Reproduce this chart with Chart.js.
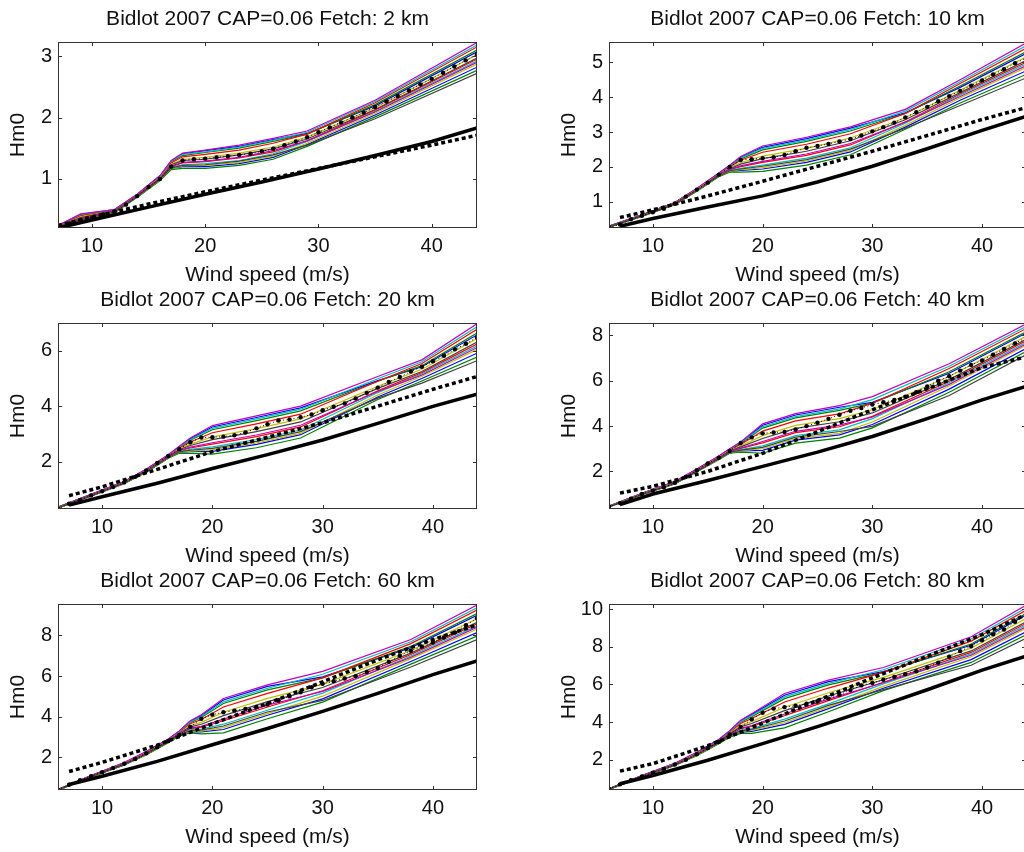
<!DOCTYPE html>
<html>
<head>
<meta charset="utf-8">
<title>Bidlot 2007 CAP=0.06</title>
<script src="https://cdn.jsdelivr.net/npm/chart.js@4.4.1/dist/chart.umd.min.js"></script>
<style>
html, body { margin:0; padding:0; background:#fff; }
body { width:1024px; height:852px; overflow:hidden; position:relative; }
canvas { position:absolute; }
</style>
</head>
<body>
<canvas id="p0" width="535" height="290" style="left:0px;top:0px"></canvas>
<canvas id="p1" width="533" height="290" style="left:551px;top:0px"></canvas>
<canvas id="p2" width="535" height="290" style="left:0px;top:281px"></canvas>
<canvas id="p3" width="533" height="290" style="left:551px;top:281px"></canvas>
<canvas id="p4" width="535" height="290" style="left:0px;top:562px"></canvas>
<canvas id="p5" width="533" height="290" style="left:551px;top:562px"></canvas>
<script>
// -----------------------------------------------
// Hm0 against wind speed, six fetches
// -----------------------------------------------

const xTicks = [10, 20, 30, 40];
const wind7to44 = [7,8,9,10,11,12,13,14,15,16,17,18,19,20,21,22,23,24,25,26,27,28,29,30,31,32,33,34,35,36,37,38,39,40,41,42,43,44];
const wind6to44 = [6,7,8,9,10,11,12,13,14,15,16,17,18,19,20,21,22,23,24,25,26,27,28,29,30,31,32,33,34,35,36,37,38,39,40,41,42,43,44];
const thickX = [7, 10, 15, 20, 25, 30, 35, 40, 44];
const runColors = ['#0000ff', '#008000', '#ff0000', '#00bfbf', '#bf00bf', '#bfbf00', '#404040'];

// Fetch 2 km
const yTicks2km = [1, 2, 3];
const knots2km = [7, 9, 12, 14, 16, 17, 18, 20, 23, 26, 29, 35, 44];
const runs2km = [
	[0.24,0.42,0.50,0.75,1.05,1.29,1.41,1.46,1.53,1.64,1.74,2.19,3.07],
	[0.23,0.41,0.49,0.74,1.04,1.28,1.38,1.43,1.50,1.61,1.73,2.21,3.10],
	[0.23,0.40,0.49,0.74,1.03,1.26,1.36,1.40,1.47,1.58,1.73,2.24,3.15],
	[0.24,0.42,0.50,0.75,1.04,1.29,1.40,1.44,1.52,1.63,1.76,2.26,3.18],
	[0.24,0.43,0.50,0.75,1.05,1.30,1.42,1.47,1.55,1.66,1.78,2.28,3.22],
	[0.22,0.38,0.48,0.73,1.02,1.24,1.32,1.35,1.42,1.52,1.68,2.16,3.02],
	[0.22,0.37,0.48,0.73,1.01,1.23,1.30,1.32,1.39,1.49,1.65,2.13,2.97],
	[0.20,0.31,0.46,0.71,0.98,1.17,1.20,1.20,1.25,1.35,1.56,2.04,2.82],
	[0.20,0.30,0.45,0.70,0.97,1.15,1.17,1.17,1.22,1.32,1.53,2.01,2.77],
	[0.21,0.35,0.47,0.72,1.00,1.20,1.26,1.28,1.34,1.44,1.62,2.12,2.95],
	[0.21,0.33,0.46,0.71,0.99,1.19,1.23,1.25,1.30,1.41,1.61,2.10,2.92],
	[0.22,0.35,0.47,0.72,1.00,1.21,1.27,1.29,1.35,1.46,1.62,2.09,2.90],
	[0.21,0.32,0.46,0.71,0.98,1.17,1.21,1.22,1.27,1.37,1.58,2.07,2.87],
	[0.21,0.33,0.46,0.71,0.99,1.18,1.22,1.23,1.29,1.39,1.55,1.98,2.72]
];
const mean2km = [0.20,0.27,0.33,0.36,0.42,0.47,0.58,0.72,0.87,1.00,1.20,1.30,1.32,1.33,1.35,1.37,1.39,1.41,1.45,1.49,1.55,1.61,1.68,1.76,1.84,1.92,2.00,2.08,2.17,2.26,2.35,2.44,2.54,2.63,2.73,2.83,2.93,3.03];
const solid2km = [0.20,0.33,0.54,0.75,0.95,1.16,1.38,1.61,1.83];
const dashed2km = [0.24,0.38,0.59,0.79,0.98,1.17,1.36,1.55,1.71];

// Fetch 10 km
const yTicks10km = [1, 2, 3, 4, 5];
const knots10km = [6, 9, 12, 14, 16, 17, 18, 20, 24, 28, 33, 38, 44];
const runs10km = [
	[0.30,0.63,0.98,1.38,1.82,2.04,2.28,2.56,2.81,3.11,3.55,4.28,5.25],
	[0.30,0.62,0.97,1.37,1.81,2.02,2.23,2.49,2.73,3.03,3.53,4.32,5.30],
	[0.29,0.62,0.97,1.36,1.80,2.00,2.19,2.42,2.65,2.95,3.53,4.39,5.40],
	[0.30,0.63,0.97,1.37,1.81,2.03,2.26,2.53,2.77,3.07,3.60,4.44,5.47],
	[0.30,0.63,0.98,1.38,1.82,2.05,2.30,2.60,2.85,3.15,3.65,4.50,5.55],
	[0.29,0.61,0.96,1.35,1.78,1.97,2.12,2.31,2.53,2.83,3.41,4.20,5.15],
	[0.29,0.61,0.95,1.34,1.77,1.95,2.08,2.24,2.45,2.75,3.35,4.13,5.05],
	[0.27,0.59,0.93,1.31,1.73,1.87,1.90,1.94,2.13,2.43,3.14,3.91,4.75],
	[0.27,0.58,0.92,1.30,1.72,1.85,1.85,1.87,2.05,2.35,3.08,3.83,4.65],
	[0.28,0.60,0.94,1.33,1.76,1.92,2.01,2.13,2.33,2.63,3.29,4.09,5.00],
	[0.28,0.59,0.94,1.32,1.75,1.90,1.96,2.05,2.25,2.55,3.25,4.06,4.95],
	[0.28,0.60,0.94,1.33,1.76,1.93,2.03,2.16,2.37,2.67,3.28,4.02,4.90],
	[0.27,0.59,0.93,1.31,1.74,1.88,1.92,1.98,2.17,2.47,3.19,3.98,4.85],
	[0.28,0.59,0.93,1.32,1.74,1.89,1.94,2.02,2.21,2.51,3.11,3.76,4.55]
];
const mean10km = [0.27,0.35,0.50,0.60,0.70,0.80,0.95,1.15,1.35,1.55,1.78,2.00,2.20,2.22,2.25,2.28,2.34,2.45,2.55,2.60,2.66,2.73,2.80,2.90,3.02,3.14,3.27,3.42,3.57,3.72,3.88,4.03,4.18,4.33,4.48,4.65,4.80,4.97,5.12];
const solid10km = [0.30,0.52,0.85,1.17,1.57,2.02,2.52,3.05,3.45];
const dashed10km = [0.55,0.77,1.17,1.59,2.02,2.45,2.90,3.36,3.70];

// Fetch 20 km
const yTicks20km = [2, 4, 6];
const knots20km = [6, 9, 12, 14, 16, 17, 18, 20, 24, 28, 35, 39, 44];
const runs20km = [
	[0.36,0.82,1.28,1.72,2.24,2.54,2.82,3.25,3.59,3.94,4.92,5.42,6.57],
	[0.36,0.81,1.27,1.71,2.23,2.51,2.77,3.15,3.48,3.83,4.90,5.46,6.64],
	[0.35,0.80,1.26,1.70,2.22,2.49,2.71,3.04,3.36,3.71,4.90,5.54,6.77],
	[0.36,0.81,1.27,1.71,2.24,2.53,2.80,3.20,3.54,3.89,4.99,5.60,6.86],
	[0.36,0.82,1.28,1.72,2.25,2.55,2.85,3.30,3.65,4.00,5.07,5.67,6.97],
	[0.35,0.79,1.25,1.68,2.20,2.45,2.63,2.89,3.19,3.54,4.72,5.33,6.44],
	[0.35,0.79,1.24,1.67,2.19,2.43,2.58,2.79,3.08,3.43,4.64,5.25,6.31],
	[0.33,0.76,1.21,1.63,2.13,2.33,2.36,2.37,2.62,2.97,4.33,5.00,5.91],
	[0.33,0.75,1.20,1.62,2.12,2.30,2.30,2.27,2.50,2.85,4.24,4.91,5.77],
	[0.34,0.77,1.23,1.66,2.17,2.39,2.49,2.63,2.90,3.25,4.55,5.21,6.24],
	[0.34,0.77,1.22,1.65,2.15,2.36,2.44,2.53,2.79,3.14,4.49,5.17,6.17],
	[0.34,0.78,1.23,1.66,2.17,2.40,2.52,2.68,2.96,3.31,4.53,5.12,6.11],
	[0.33,0.76,1.21,1.64,2.14,2.34,2.38,2.42,2.67,3.02,4.40,5.08,6.04],
	[0.34,0.76,1.22,1.64,2.15,2.35,2.41,2.48,2.73,3.08,4.29,4.83,5.64]
];
const mean20km = [0.30,0.48,0.62,0.78,0.93,1.08,1.25,1.45,1.68,1.95,2.20,2.45,2.70,2.87,2.88,2.90,2.95,3.05,3.20,3.35,3.48,3.52,3.60,3.70,3.85,3.98,4.10,4.28,4.48,4.67,4.87,5.05,5.25,5.42,5.62,5.82,6.05,6.25,6.48];
const solid20km = [0.43,0.73,1.22,1.75,2.25,2.78,3.38,3.99,4.43];
const dashed20km = [0.77,1.09,1.72,2.36,2.88,3.40,4.00,4.61,5.07];

// Fetch 40 km
const yTicks40km = [2, 4, 6, 8];
const knots40km = [6, 9, 12, 14, 16, 17, 18, 20, 23, 27, 30, 37, 44];
const runs40km = [
	[0.47,1.03,1.55,2.09,2.67,2.99,3.28,4.04,4.49,4.83,5.05,6.33,8.10],
	[0.46,1.02,1.54,2.08,2.66,2.97,3.23,3.91,4.36,4.69,5.01,6.40,8.16],
	[0.46,1.02,1.53,2.07,2.64,2.95,3.19,3.78,4.23,4.54,5.01,6.54,8.30],
	[0.47,1.02,1.54,2.09,2.66,2.98,3.26,3.97,4.42,4.76,5.17,6.64,8.39],
	[0.47,1.03,1.55,2.10,2.68,3.00,3.30,4.10,4.55,4.90,5.30,6.75,8.50],
	[0.45,1.01,1.51,2.05,2.62,2.92,3.12,3.58,4.03,4.33,4.72,6.19,7.96],
	[0.45,1.00,1.50,2.04,2.60,2.90,3.08,3.45,3.90,4.19,4.58,6.05,7.83],
	[0.43,0.98,1.46,1.99,2.54,2.82,2.90,2.93,3.38,3.61,4.07,5.63,7.42],
	[0.43,0.97,1.45,1.98,2.52,2.80,2.85,2.80,3.25,3.47,3.92,5.49,7.29],
	[0.44,0.99,1.49,2.02,2.58,2.87,3.01,3.26,3.71,3.97,4.43,5.98,7.76],
	[0.44,0.99,1.48,2.01,2.56,2.85,2.96,3.13,3.58,3.83,4.33,5.91,7.69],
	[0.45,0.99,1.49,2.03,2.58,2.88,3.03,3.32,3.77,4.04,4.40,5.84,7.62],
	[0.44,0.98,1.47,2.00,2.54,2.83,2.92,3.00,3.45,3.68,4.18,5.77,7.56],
	[0.44,0.98,1.47,2.00,2.55,2.84,2.94,3.06,3.51,3.76,3.99,5.35,7.15]
];
const mean40km = [0.45,0.60,0.80,1.00,1.15,1.30,1.50,1.75,2.05,2.35,2.60,2.90,3.25,3.50,3.68,3.72,3.74,3.85,4.00,4.15,4.32,4.50,4.68,4.80,4.95,5.05,5.15,5.30,5.50,5.75,6.00,6.20,6.45,6.70,6.90,7.15,7.40,7.65,7.90];
const solid40km = [0.53,1.00,1.60,2.22,2.85,3.54,4.33,5.16,5.75];
const dashed40km = [1.04,1.34,2.00,2.80,3.75,4.72,5.65,6.59,7.05];

// Fetch 60 km
const yTicks60km = [2, 4, 6, 8];
const knots60km = [6, 9, 12, 14, 16, 17, 18, 19, 21, 25, 30, 38, 44];
const runs60km = [
	[0.42,1.10,1.73,2.27,2.89,3.29,3.77,4.05,4.82,5.49,5.96,7.40,8.99],
	[0.41,1.09,1.72,2.26,2.87,3.26,3.71,3.96,4.65,5.32,5.91,7.46,9.08],
	[0.41,1.08,1.71,2.24,2.86,3.24,3.65,3.86,4.48,5.15,5.91,7.60,9.25],
	[0.42,1.09,1.73,2.26,2.88,3.28,3.74,4.01,4.73,5.40,6.09,7.69,9.36],
	[0.42,1.10,1.74,2.28,2.90,3.30,3.80,4.10,4.90,5.57,6.23,7.80,9.50],
	[0.40,1.07,1.69,2.22,2.83,3.20,3.56,3.72,4.22,4.90,5.59,7.26,8.82],
	[0.40,1.06,1.68,2.20,2.81,3.18,3.50,3.63,4.05,4.74,5.44,7.13,8.65],
	[0.38,1.03,1.63,2.14,2.74,3.08,3.26,3.25,3.37,4.07,4.88,6.72,8.14],
	[0.38,1.02,1.62,2.12,2.72,3.05,3.20,3.15,3.20,3.90,4.72,6.59,7.97],
	[0.39,1.05,1.66,2.18,2.78,3.14,3.41,3.48,3.80,4.48,5.28,7.06,8.57],
	[0.39,1.04,1.65,2.16,2.77,3.11,3.35,3.39,3.63,4.32,5.16,6.99,8.48],
	[0.40,1.05,1.67,2.18,2.79,3.15,3.44,3.53,3.88,4.57,5.24,6.92,8.40],
	[0.39,1.03,1.64,2.14,2.75,3.09,3.29,3.29,3.46,4.15,5.01,6.86,8.31],
	[0.39,1.04,1.64,2.15,2.76,3.10,3.32,3.34,3.54,4.23,4.80,6.45,7.80]
];
const mean60km = [0.40,0.65,0.87,1.07,1.27,1.47,1.68,1.92,2.20,2.50,2.80,3.10,3.50,3.90,4.10,4.22,4.30,4.38,4.48,4.60,4.80,5.00,5.20,5.45,5.62,5.75,5.88,6.00,6.20,6.40,6.70,7.00,7.25,7.45,7.65,7.90,8.15,8.50,8.85];
const solid60km = [0.66,1.07,1.80,2.62,3.42,4.26,5.15,6.07,6.75];
const dashed60km = [1.30,1.75,2.60,3.65,4.65,5.72,6.80,7.80,8.52];

// Fetch 80 km
const yTicks80km = [2, 4, 6, 8, 10];
const knots80km = [6, 9, 12, 14, 16, 17, 18, 19, 22, 26, 31, 39, 44];
const runs80km = [
	[0.47,1.16,1.81,2.39,3.07,3.53,4.07,4.40,5.43,6.15,6.68,8.08,9.68],
	[0.46,1.15,1.80,2.37,3.05,3.50,4.00,4.29,5.25,5.98,6.64,8.15,9.76],
	[0.46,1.14,1.79,2.36,3.02,3.46,3.93,4.19,5.07,5.81,6.64,8.30,9.94],
	[0.47,1.15,1.81,2.38,3.06,3.52,4.03,4.35,5.34,6.06,6.78,8.41,10.06],
	[0.47,1.16,1.82,2.40,3.08,3.55,4.10,4.45,5.52,6.23,6.90,8.53,10.20],
	[0.45,1.13,1.77,2.33,2.99,3.41,3.82,4.03,4.79,5.56,6.38,7.93,9.50],
	[0.45,1.12,1.76,2.31,2.97,3.38,3.75,3.93,4.61,5.39,6.25,7.78,9.33],
	[0.43,1.09,1.71,2.24,2.87,3.24,3.47,3.51,3.88,4.72,5.80,7.32,8.80],
	[0.43,1.08,1.70,2.22,2.85,3.20,3.40,3.40,3.70,4.55,5.67,7.17,8.63],
	[0.44,1.11,1.74,2.28,2.93,3.32,3.65,3.77,4.34,5.14,6.12,7.70,9.24],
	[0.44,1.10,1.73,2.27,2.91,3.29,3.58,3.66,4.16,4.97,6.03,7.62,9.15],
	[0.45,1.11,1.75,2.29,2.94,3.34,3.68,3.82,4.43,5.22,6.09,7.55,9.06],
	[0.44,1.09,1.72,2.25,2.88,3.25,3.51,3.56,3.97,4.80,5.90,7.47,8.98],
	[0.44,1.10,1.72,2.26,2.90,3.27,3.54,3.61,4.06,4.89,5.73,7.02,8.45]
];
const mean80km = [0.45,0.70,0.92,1.12,1.32,1.52,1.75,2.00,2.30,2.62,2.95,3.35,3.75,4.15,4.50,4.72,4.80,4.87,4.98,5.10,5.25,5.45,5.70,5.95,6.08,6.25,6.40,6.55,6.70,6.90,7.15,7.47,7.77,8.03,8.35,8.66,8.92,9.33,9.70];
const solid80km = [0.73,1.17,1.98,2.86,3.76,4.72,5.72,6.76,7.50];
const dashed80km = [1.40,1.80,2.75,3.95,5.15,6.35,7.50,8.65,9.70];

// Panels
const FONT = '"Liberation Sans", Arial, Helvetica, sans-serif';
const INK = '#111';

var panels = [
	{id:'p0', fetch:'2 km',  xMin:7, yMin:0.2,  yMax:3.23,  yTicks:yTicks2km,  knots:knots2km,  runs:runs2km,  meanX:wind7to44, mean:mean2km,  solid:solid2km,  dashed:dashed2km},
	{id:'p1', fetch:'10 km', xMin:6, yMin:0.25, yMax:5.58,  yTicks:yTicks10km, knots:knots10km, runs:runs10km, meanX:wind6to44, mean:mean10km, solid:solid10km, dashed:dashed10km},
	{id:'p2', fetch:'20 km', xMin:6, yMin:0.29, yMax:7.0,   yTicks:yTicks20km, knots:knots20km, runs:runs20km, meanX:wind6to44, mean:mean20km, solid:solid20km, dashed:dashed20km},
	{id:'p3', fetch:'40 km', xMin:6, yMin:0.34, yMax:8.55,  yTicks:yTicks40km, knots:knots40km, runs:runs40km, meanX:wind6to44, mean:mean40km, solid:solid40km, dashed:dashed40km},
	{id:'p4', fetch:'60 km', xMin:6, yMin:0.39, yMax:9.55,  yTicks:yTicks60km, knots:knots60km, runs:runs60km, meanX:wind6to44, mean:mean60km, solid:solid60km, dashed:dashed60km},
	{id:'p5', fetch:'80 km', xMin:6, yMin:0.4,  yMax:10.27, yTicks:yTicks80km, knots:knots80km, runs:runs80km, meanX:wind6to44, mean:mean80km, solid:solid80km, dashed:dashed80km}
];

// Some support functions
function pairUp(xs, ys){return xs.map((x, i) => ({x: x, y: ys[i]}));}

// axes box with inward ticks, like the original
const boxPlugin = {
	id: 'matlabBox',
	afterDatasetsDraw(chart){
		var ctx = chart.ctx, a = chart.chartArea, sx = chart.scales.x, sy = chart.scales.y;
		ctx.save();
		ctx.strokeStyle = '#333';
		ctx.lineWidth = 1;
		ctx.beginPath();
		sx.ticks.forEach(t => {
			var px = Math.round(sx.getPixelForValue(t.value)) + 0.5;
			ctx.moveTo(px, a.bottom); ctx.lineTo(px, a.bottom - 4);
			ctx.moveTo(px, a.top); ctx.lineTo(px, a.top + 4);
		});
		sy.ticks.forEach(t => {
			var py = Math.round(sy.getPixelForValue(t.value)) + 0.5;
			ctx.moveTo(a.left, py); ctx.lineTo(a.left + 4, py);
			ctx.moveTo(a.right, py); ctx.lineTo(a.right - 4, py);
		});
		ctx.stroke();
		ctx.strokeRect(a.left + 0.5, a.top + 0.5, a.right - a.left - 1, a.bottom - a.top - 1);
		ctx.restore();
	}
};

function createPanel(p){
	var sets = [];
	sets.push({data: pairUp(p.meanX, p.mean), borderColor:'#000', borderWidth:1, borderDash:[1,2.5],
		pointRadius:2.2, pointBackgroundColor:'#000', pointBorderWidth:0});
	sets.push({data: pairUp(thickX, p.dashed), borderColor:'#000', borderWidth:3.5, borderDash:[4,3], pointRadius:0});
	sets.push({data: pairUp(thickX, p.solid), borderColor:'#000', borderWidth:3.5, pointRadius:0});
	p.runs.slice().reverse().forEach((r, k) => {
		var i = p.runs.length - 1 - k;
		sets.push({data: pairUp(p.knots, r), borderColor: runColors[i % 7], borderWidth:1.2, pointRadius:0});
	});

	var config = {
		type: 'line',
		data: {datasets: sets},
		options: {
			responsive: false,
			animation: false,
			devicePixelRatio: 1,
			clip: 0,
			layout: {padding: 0},
			plugins: {
				legend: {display:false},
				tooltip: {enabled:false},
				title: {display:true, text:'Bidlot 2007 CAP=0.06 Fetch: ' + p.fetch, color:INK,
					font:{family:FONT, size:21, weight:'normal', lineHeight:'24px'}, padding:{top:7, bottom:11}}
			},
			scales: {
				x: {
					type:'linear', min:p.xMin, max:44,
					grid:{display:false, drawTicks:false}, border:{display:false},
					ticks:{color:INK, font:{family:FONT, size:20}, padding:6, maxRotation:0},
					afterBuildTicks: s => { s.ticks = xTicks.map(v => ({value:v})); },
					afterFit: s => { s.height = 62; },
					title:{display:true, text:'Wind speed (m/s)', color:INK,
						font:{family:FONT, size:21, lineHeight:'24px'}, padding:{top:0, bottom:3}}
				},
				y: {
					type:'linear', min:p.yMin, max:p.yMax,
					grid:{display:false, drawTicks:false}, border:{display:false},
					ticks:{color:INK, font:{family:FONT, size:20}, padding:6},
					afterBuildTicks: s => { s.ticks = p.yTicks.map(v => ({value:v})); },
					afterFit: s => { s.width = 58; },
					title:{display:true, text:'Hm0', color:INK,
						font:{family:FONT, size:21, lineHeight:'24px'}, padding:{top:6, bottom:0}}
				},
				// empty right margin so the title centres over the plot
				yPad: {
					position:'right', type:'linear', min:p.yMin, max:p.yMax,
					grid:{display:false, drawTicks:false}, border:{display:false},
					ticks:{display:false},
					afterFit: s => { s.width = 58; }
				}
			}
		},
		plugins: [boxPlugin]
	};
	new Chart(document.getElementById(p.id), config);
}

// Display
panels.forEach(createPanel);
</script>
</body>
</html>
